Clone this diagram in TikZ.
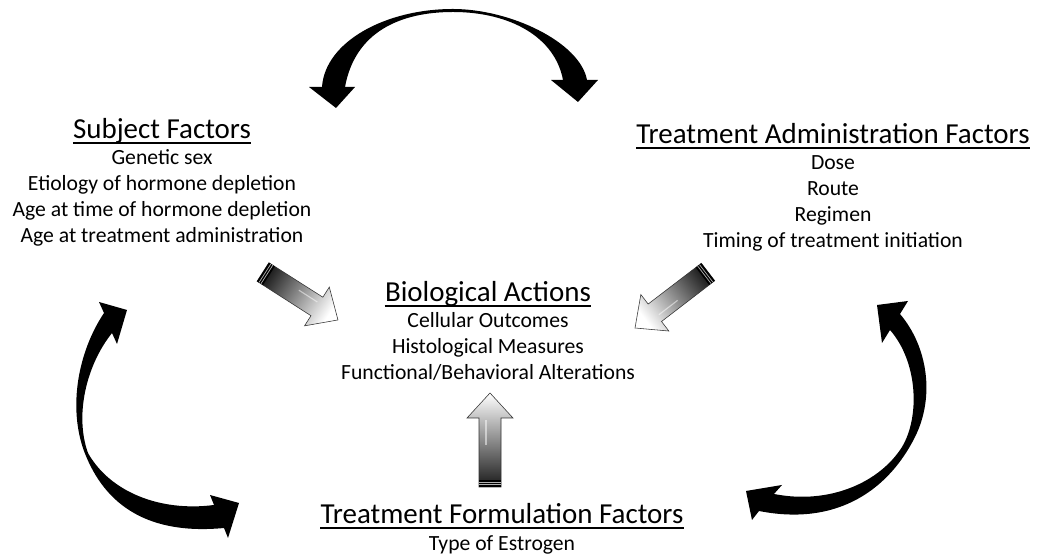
\documentclass[tikz,border=0pt]{standalone}
\usepackage{fontspec}
\setmainfont{Carlito}
\usetikzlibrary{positioning}

% shaded block arrow: tail point, angle, length (px units)
\newcommand{\blockarrow}[3]{%
  \pgfmathsetmacro{\shadeangle}{#2+90}
  \begin{scope}[shift={#1}, rotate=#2]
    \path[top color=black!90, bottom color=white, shading angle=\shadeangle,
          draw=black!80, line width=0.4pt]
      (0,-11) -- (#3-25,-11) -- (#3-25,-23) -- (#3,0) -- (#3-25,23)
      -- (#3-25,11) -- (0,11) -- cycle;
    \draw[white, opacity=0.5, line width=0.8pt] (#3*0.45,4) -- (#3-27,4);
    \fill[black] (0,-11) rectangle (7,11);
    \draw[gray!60, line width=0.5pt] (2.3,-11) -- (2.3,11) (4.6,-11) -- (4.6,11);
  \end{scope}}

\begin{document}
\begin{tikzpicture}[x=0.025cm, y=0.025cm,
    grouptitle/.style={font=\fontsize{20.6}{24}\selectfont, inner sep=0pt, anchor=base},
    grouplist/.style={font=\fontsize{15.4}{18.5}\selectfont, align=center, inner sep=0pt},
    titlerule/.style={line width=1.4pt},
    crescent/.style={fill=black},
  ]
  \useasboundingbox[fill=white] (0,0) rectangle (1042,557);

  % factor groups
  \node[grouptitle] (subj) at (162,418) {Subject Factors};
  \node[grouplist, below=3.3pt of subj] (subjlist)
    {Genetic sex\\ Etiology of hormone depletion\\ Age at time of hormone depletion\\
     Age at treatment administration};

  \node[grouptitle] (admin) at (833,413) {Treatment Administration Factors};
  \node[grouplist, below=7.6pt of admin] (adminlist)
    {Dose\\ Route\\ Regimen\\ Timing of treatment initiation};

  \node[grouptitle] (bio) at (488,255) {Biological Actions};
  \node[grouplist, below=3.3pt of bio] (biolist)
    {Cellular Outcomes\\ Histological Measures\\ Functional/Behavioral Alterations};

  \node[grouptitle] (form) at (502,33) {Treatment Formulation Factors};
  \node[grouplist, below=7.6pt of form] (formlist) {Type of Estrogen};

  % title underlines
  \foreach \t in {subj, admin, bio, form}
    \draw[titlerule] ([yshift=-2.9pt]\t.base west) -- ([yshift=-2.9pt]\t.base east);

  % shaded arrows into the centre
  \blockarrow{(263,285)}{-32.6}{89}
  \blockarrow{(708,285)}{217.5}{92}
  \blockarrow{(490,70)}{90}{94}

  % black curved arrows
  \path[crescent] (322,470) .. controls (325,515) and (385,548) .. (453,548)
    .. controls (510,548) and (580,515) .. (587,477)
    -- (598,477) -- (578,455) -- (551,477) -- (563,477)
    .. controls (555,520) and (510,545) .. (453,545)
    .. controls (400,545) and (355,525) .. (345,470)
    -- (355,470) -- (336,449) -- (309,470) -- cycle;

  \path[crescent] (104,244) .. controls (78,205) and (68,150) .. (84,106)
    .. controls (105,50) and (150,22) .. (224,29)
    -- (228,19) -- (239,54) -- (210,62) -- (214,52)
    .. controls (160,45) and (110,65) .. (88,104)
    .. controls (75,140) and (85,190) .. (112,224)
    -- (117,213) -- (127,247) -- (99,255) -- cycle;

  \path[crescent] (900,243) .. controls (928,210) and (935,160) .. (915,120)
    .. controls (890,70) and (840,30) .. (759,46)
    -- (752,37) -- (746,66) -- (782,72) -- (774,63)
    .. controls (830,52) and (880,75) .. (902,110)
    .. controls (920,140) and (918,195) .. (890,227)
    -- (882,214) -- (877,252) -- (908,256) -- cycle;
\end{tikzpicture}
\end{document}
